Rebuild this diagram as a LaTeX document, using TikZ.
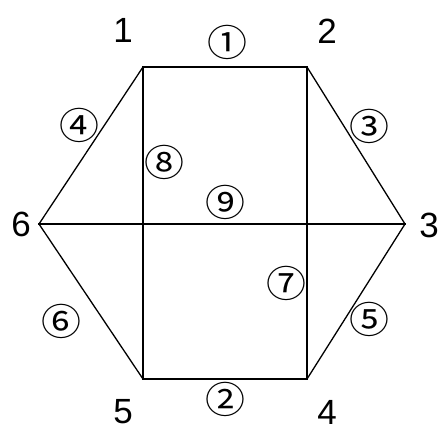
\documentclass[tikz,border=0pt]{standalone}
\usepackage{fontspec}
\setmainfont{Liberation Sans}
\newfontfamily\circfont{Noto Sans CJK JP}
\begin{document}
\begin{tikzpicture}[x=1pt,y=-1pt,
  thickline/.style={line width=2.6pt,line cap=rect},
  thinline/.style={line width=1.3pt},
  vlabel/.style={font=\fontsize{35}{35}\selectfont,inner sep=0pt},
  elabel/.style={font=\circfont\fontsize{37}{37}\selectfont,inner sep=0pt,xscale=1.08}]
\useasboundingbox (0,0) rectangle (438,430);
\coordinate (p1) at (143,67);
\coordinate (p2) at (307,67);
\coordinate (p3) at (405,224);
\coordinate (p4) at (307,379);
\coordinate (p5) at (143,379);
\coordinate (p6) at (39,224);
\draw[thickline] (p1) -- (p2);
\draw[thickline] (p5) -- (p4);
\draw[thickline] (p1) -- (p5);
\draw[thickline] (p2) -- (p4);
\draw[thickline] (p6) -- (p3);
\draw[thinline] (p1) -- (p6);
\draw[thinline] (p2) -- (p3);
\draw[thinline] (p4) -- (p3);
\draw[thinline] (p5) -- (p6);
\node[vlabel] (n1) at (123,30) {1};
\node[vlabel] (n2) at (327,31) {2};
\node[vlabel] (n3) at (429,225) {3};
\node[vlabel] (n4) at (327,412) {4};
\node[vlabel] (n5) at (123,412) {5};
\node[vlabel] (n6) at (21,224) {6};
\node[elabel] (e1) at (227,42) {①};
\node[elabel] (e2) at (225,399) {②};
\node[elabel] (e3) at (369,126) {③};
\node[elabel] (e4) at (79,125) {④};
\node[elabel] (e5) at (369,319) {⑤};
\node[elabel] (e6) at (61,321) {⑥};
\node[elabel] (e7) at (286,283) {⑦};
\node[elabel] (e8) at (164,162) {⑧};
\node[elabel] (e9) at (225,202) {⑨};
\end{tikzpicture}
\end{document}
